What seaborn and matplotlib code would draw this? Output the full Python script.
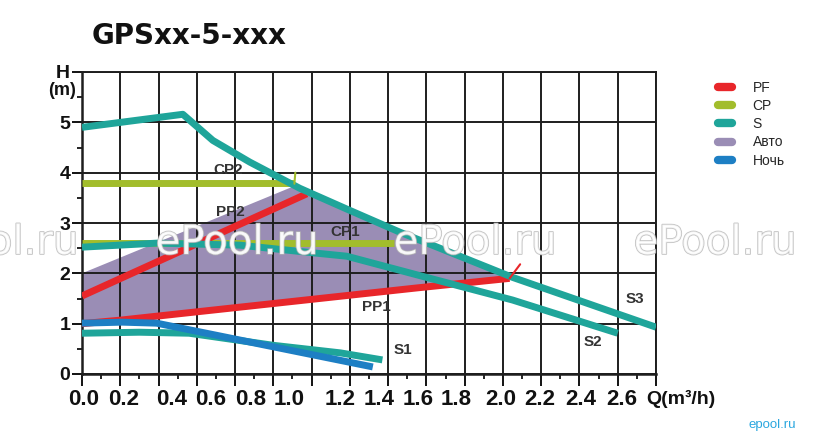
import numpy as np
import pandas as pd
import matplotlib
matplotlib.use('Agg')
import matplotlib.pyplot as plt
import matplotlib.patheffects as pe
from matplotlib.lines import Line2D
import seaborn as sns

# Q axis is kept in grid units: one grid cell = 0.2, 15 cells across
# curves
cp2_q = [0.0, 1.11]
cp2_h = [3.80, 3.80]
cp1_q = [0.0, 1.63]
cp1_h = [2.60, 2.60]
pp2_q = [0.0, 1.175]
pp2_h = [1.55, 3.58]
pp1_q = [0.0, 0.20, 1.75, 2.235]
pp1_h = [1.00, 1.07, 1.71, 1.90]
s3_q = [0.0, 0.527, 0.684, 0.877, 1.138, 1.40, 1.66, 2.25, 3.0]
s3_h = [4.90, 5.16, 4.64, 4.21, 3.69, 3.25, 2.82, 1.92, 0.93]
s2_q = [0.0, 0.392, 0.825, 1.175, 1.384, 1.80, 2.25, 2.80]
s2_h = [2.52, 2.60, 2.56, 2.42, 2.34, 1.92, 1.47, 0.81]
s1_q = [0.0, 0.30, 0.56, 1.0, 1.35, 1.57]
s1_h = [0.81, 0.83, 0.81, 0.57, 0.42, 0.28]
night_q = [0.0, 0.21, 0.39, 0.65, 1.0, 1.52]
night_h = [1.01, 1.03, 1.01, 0.81, 0.54, 0.14]
auto_q = [0.0, 0.0, 1.12, 1.40, 1.66, 2.24]
auto_h = [1.00, 2.00, 3.75, 3.25, 2.82, 1.90]

xtick_labels = ['0.0', '0.2', '0.4', '0.6', '0.8', '1.0', '1.2', '1.4',
                '1.6', '1.8', '2.0', '2.2', '2.4', '2.6']
ytick_labels = ['0', '1', '2', '3', '4', '5', 'H']
legend_names = ['PF', 'CP', 'S', 'Авто', 'Ночь']

# colours
RED = '#e8262a'
GREEN = '#a2bd2c'
TEAL = '#1fa59a'
PURPLE = '#9a8db5'
BLUE = '#1d7fc4'
INK = '#333333'

sns.set_theme(style='white')
plt.rcParams['font.family'] = ['Liberation Sans', 'DejaVu Sans']

fig = plt.figure(figsize=(8.13, 4.37), dpi=100)
ax = fig.add_axes([82/813, 63/437, 574/813, 302/437])
ax.set_xlim(0, 3.0)
ax.set_ylim(0, 6.0)

# Auto zone
ax.fill(auto_q + pp1_q[::-1][:-1], auto_h + pp1_h[::-1][:-1],
        color=PURPLE, lw=0, zorder=1)

# grid
ax.set_axisbelow('line')
ax.set_xticks(np.arange(0, 3.01, 0.2))
ax.set_xticks(np.arange(0, 3.01, 0.1), minor=True)
ax.set_yticks(range(7))
ax.set_yticks(np.arange(0.5, 6, 1.0), minor=True)
ax.grid(True, which='major', color='#1e1e1e', lw=1.4)
ax.tick_params(axis='x', which='major', direction='out', length=8.5, width=1.4,
               color='#111111', labelbottom=False, bottom=True)
ax.tick_params(axis='x', which='minor', direction='out', length=3.5, width=1.3,
               color='#111111', bottom=True)
ax.tick_params(axis='y', which='major', direction='out', length=7, width=1.4,
               color='#111111', left=True, pad=1.5)
ax.tick_params(axis='y', which='minor', direction='out', length=3.5, width=1.3,
               color='#111111', left=True)
ax.set_yticklabels(ytick_labels, fontsize=14, fontweight='bold', color='#111111')
for sp in ax.spines.values():
    sp.set_color('#1e1e1e')
    sp.set_linewidth(1.4)
ax.spines['left'].set_linewidth(1.8)
ax.spines['bottom'].set_linewidth(1.8)
ax.set_xlabel('')
ax.set_ylabel('')

# curves
lw = 5
curves = [
    (cp2_q, cp2_h, GREEN), (cp1_q, cp1_h, GREEN),
    (pp2_q, pp2_h, RED), (pp1_q, pp1_h, RED),
    (s3_q, s3_h, TEAL), (s2_q, s2_h, TEAL), (s1_q, s1_h, TEAL),
    (night_q, night_h, BLUE),
]
for q, h, c in curves:
    sns.lineplot(x=q, y=h, color=c, lw=lw, sort=False, estimator=None,
                 ax=ax, solid_capstyle='butt', zorder=3)

# small end marks
ax.plot([1.11, 1.115], [3.78, 4.0], color=GREEN, lw=1.5, zorder=3)
ax.plot([2.235, 2.29], [1.90, 2.18], color=RED, lw=1.5, zorder=3)

# curve names
names = [('CP2', 0.762, 4.05), ('PP2', 0.773, 3.21), ('CP1', 1.373, 2.82),
         ('PP1', 1.54, 1.33), ('S1', 1.676, 0.476), ('S2', 2.668, 0.635),
         ('S3', 2.888, 1.488)]
for t, x, y in names:
    ax.text(x, y, t, fontsize=11, fontweight='bold', color=INK,
            ha='center', va='center', zorder=4)

# Q tick labels (printed off the tick marks as in the original)
xlabel_pos = [0.01, 0.219, 0.470, 0.674, 0.883, 1.081, 1.347, 1.551,
              1.755, 1.953, 2.188, 2.392, 2.606, 2.820]
for x, t in zip(xlabel_pos, xtick_labels):
    ax.text(x, -0.083, t, transform=ax.get_xaxis_transform(), ha='center',
            va='center', fontsize=16, fontweight='bold', color='#111111')
ax.text(2.95, -0.083, 'Q(m³/h)', transform=ax.get_xaxis_transform(),
        ha='left', va='center', fontsize=14, fontweight='bold',
        color='#111111')
ax.text(-0.105, 5.63, '(m)', ha='center', va='center', fontsize=13,
        fontweight='bold', color='#111111', clip_on=False)

# title
fig.text(189/813, 1 - 36/437, 'GPSxx-5-xxx', ha='center', va='center',
         fontsize=20, fontweight='bold', family='DejaVu Sans', color='#111111')

# legend
handles = [Line2D([], [], color=c, lw=6, solid_capstyle='round')
           for c in [RED, GREEN, TEAL, PURPLE, BLUE]]
fig.legend(handles, legend_names, loc='upper left',
           bbox_to_anchor=(718/813, 1 - 81/437), frameon=False, fontsize=10,
           handlelength=1.0, handletextpad=1.5, labelspacing=0.3,
           borderpad=0, borderaxespad=0)

# watermarks
wm = [pe.withStroke(linewidth=1.2, foreground='#b4b4b4')]
for xc in [-3, 237, 475, 715]:
    fig.text(xc/813, 1 - 243/437, 'ePool.ru', ha='center', va='center',
             fontsize=29, family='DejaVu Sans', color='white', alpha=0.8,
             path_effects=wm, zorder=10)
fig.text(772/813, 1 - 425/437, 'epool.ru', ha='center', va='center',
         fontsize=9.5, color='#2aa7df')

fig.savefig('out.png', dpi=100)
